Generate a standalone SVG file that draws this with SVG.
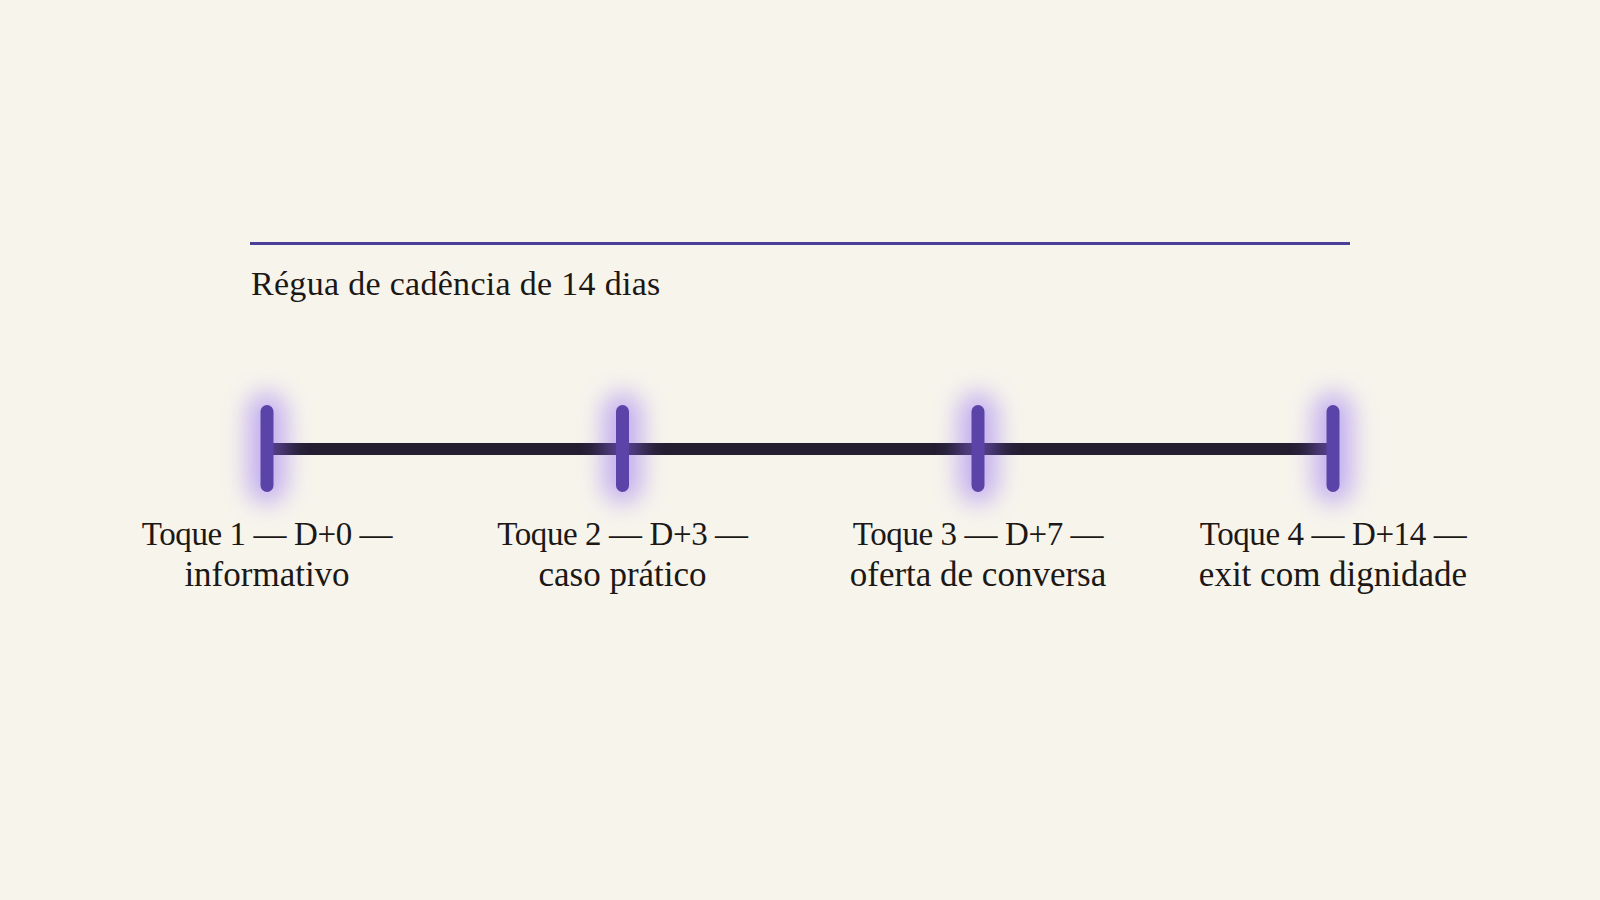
<svg xmlns="http://www.w3.org/2000/svg" width="1600" height="900" viewBox="0 0 1600 900">
  <defs>
    <style>
      .label { font-family: "Liberation Serif", "Times New Roman", serif; font-size: 35px; fill: #1b1815; text-anchor: middle; }
      .head { font-size: 33px; letter-spacing: -0.4px; }
      .title { font-family: "Liberation Serif", "Times New Roman", serif; font-size: 34px; letter-spacing: 0.3px; fill: #1b1815; }
      .tick { stroke: #5a44a8; stroke-width: 13; stroke-linecap: round; fill: none; }
      .glow { fill: #8d68f4; opacity: 0.5; filter: url(#blur); }
      .track { stroke: #241e31; stroke-width: 12; fill: none; }
    </style>
    <filter id="blur" x="-150%" y="-100%" width="400%" height="300%">
      <feGaussianBlur stdDeviation="12"/>
    </filter>
  </defs>
  <rect width="1600" height="900" fill="#f7f4ec"/>

  <g id="title">
    <line x1="250" y1="243.5" x2="1350" y2="243.5" stroke="#4b3e99" stroke-width="3"/>
    <text class="title" x="251" y="295">Régua de cadência de 14 dias</text>
  </g>

  <g id="connectors">
    <line class="track" x1="267" y1="449" x2="622.5" y2="449"/>
    <line class="track" x1="622.5" y1="449" x2="978" y2="449"/>
    <line class="track" x1="978" y1="449" x2="1333" y2="449"/>
  </g>

  <g id="node-1">
    <rect class="glow" x="248" y="393" width="38" height="110" rx="19"/>
    <line class="tick" x1="267" y1="411.5" x2="267" y2="485.5"/>
    <text class="label head" x="267" y="545">Toque 1 — D+0 —</text>
    <text class="label" x="267" y="586">informativo</text>
  </g>

  <g id="node-2">
    <rect class="glow" x="603.5" y="393" width="38" height="110" rx="19"/>
    <line class="tick" x1="622.5" y1="411.5" x2="622.5" y2="485.5"/>
    <text class="label head" x="622.5" y="545">Toque 2 — D+3 —</text>
    <text class="label" x="622.5" y="586">caso prático</text>
  </g>

  <g id="node-3">
    <rect class="glow" x="959" y="393" width="38" height="110" rx="19"/>
    <line class="tick" x1="978" y1="411.5" x2="978" y2="485.5"/>
    <text class="label head" x="978" y="545">Toque 3 — D+7 —</text>
    <text class="label" x="978" y="586">oferta de conversa</text>
  </g>

  <g id="node-4">
    <rect class="glow" x="1314" y="393" width="38" height="110" rx="19"/>
    <line class="tick" x1="1333" y1="411.5" x2="1333" y2="485.5"/>
    <text class="label head" x="1333" y="545">Toque 4 — D+14 —</text>
    <text class="label" x="1333" y="586">exit com dignidade</text>
  </g>
</svg>
